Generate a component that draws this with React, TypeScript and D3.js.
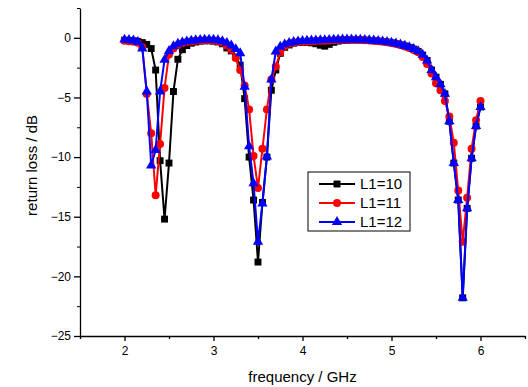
import React, { useEffect, useRef } from 'react';
import * as d3 from 'd3';

const FREQ = [
  2.0, 2.05, 2.1, 2.15, 2.2, 2.25, 2.3, 2.35, 2.4, 2.45,
  2.5, 2.55, 2.6, 2.65, 2.7, 2.75, 2.8, 2.85, 2.9, 2.95,
  3.0, 3.05, 3.1, 3.15, 3.2, 3.25, 3.3, 3.35, 3.4, 3.45,
  3.5, 3.55, 3.6, 3.65, 3.7, 3.75, 3.8, 3.85, 3.9, 3.95,
  4.0, 4.05, 4.1, 4.15, 4.2, 4.25, 4.3, 4.35, 4.4, 4.45,
  4.5, 4.55, 4.6, 4.65, 4.7, 4.75, 4.8, 4.85, 4.9, 4.95,
  5.0, 5.05, 5.1, 5.15, 5.2, 5.25, 5.3, 5.35, 5.4, 5.45,
  5.5, 5.55, 5.6, 5.65, 5.7, 5.75, 5.8, 5.85, 5.9, 5.95,
  6.0,
];

const L1_10 = [
  -0.2, -0.22, -0.25, -0.3, -0.4, -0.55, -0.9, -2.7, -10.3, -15.2,
  -10.5, -4.5, -1.8, -1.0, -0.65, -0.45, -0.35, -0.28, -0.25, -0.25,
  -0.28, -0.35, -0.5, -0.85, -1.1, -1.6, -2.3, -5.1, -10.0, -13.6,
  -18.8, -13.8, -10.0, -4.4, -2.7, -1.3, -0.8, -0.6, -0.45, -0.4,
  -0.38, -0.38, -0.42, -0.5, -0.62, -0.7, -0.55, -0.38, -0.28, -0.22,
  -0.2, -0.18, -0.18, -0.18, -0.2, -0.22, -0.25, -0.28, -0.32, -0.36,
  -0.42, -0.5, -0.58, -0.68, -0.8, -0.95, -1.15, -1.45, -1.9, -2.7,
  -3.3, -3.9, -4.7, -7.0, -10.5, -13.6, -21.8, -14.3, -10.1, -7.4,
  -5.8,
];

const L1_11 = [
  -0.25, -0.28, -0.32, -0.42, -0.8, -4.7, -8.0, -13.2, -8.9, -4.2,
  -1.4, -0.9, -0.6, -0.45, -0.35, -0.3, -0.25, -0.22, -0.2, -0.2,
  -0.22, -0.28, -0.4, -0.65, -1.0, -1.7, -2.7, -4.0, -6.0, -9.9,
  -12.6, -9.3, -6.0, -3.5, -2.4, -1.2, -0.7, -0.5, -0.4, -0.35,
  -0.32, -0.3, -0.28, -0.26, -0.25, -0.24, -0.22, -0.2, -0.18, -0.17,
  -0.16, -0.16, -0.17, -0.18, -0.2, -0.22, -0.25, -0.28, -0.32, -0.37,
  -0.43, -0.5, -0.6, -0.72, -0.86, -1.02, -1.22, -1.6, -2.2, -3.0,
  -3.8, -4.4, -5.3, -6.6, -8.8, -12.8, -17.1, -13.4, -9.3, -6.9,
  -5.3,
];

const L1_12 = [
  -0.15, -0.18, -0.22, -0.35, -0.9, -4.5, -10.7, -9.4, -4.5, -1.85,
  -1.1, -0.7, -0.5, -0.38, -0.3, -0.24, -0.2, -0.17, -0.15, -0.15,
  -0.16, -0.2, -0.28, -0.42, -0.65, -0.95, -1.3, -4.1, -9.1, -12.2,
  -17.1, -13.9, -9.95, -3.5, -1.15, -0.75, -0.55, -0.42, -0.35, -0.3,
  -0.27, -0.25, -0.23, -0.22, -0.2, -0.19, -0.18, -0.16, -0.15, -0.14,
  -0.14, -0.14, -0.15, -0.16, -0.18, -0.2, -0.23, -0.26, -0.3, -0.35,
  -0.4, -0.47, -0.56, -0.66, -0.78, -0.93, -1.12, -1.42, -1.9, -2.7,
  -3.3, -3.9, -4.7, -7.0, -10.5, -13.6, -21.8, -14.3, -10.1, -7.4,
  -5.8,
];

const SERIES = [
  { name: 'L1=10', values: L1_10, color: '#000000', symbol: d3.symbolSquare, size: 48 },
  { name: 'L1=11', values: L1_11, color: '#ff0000', symbol: d3.symbolCircle, size: 50 },
  { name: 'L1=12', values: L1_12, color: '#0000ff', symbol: d3.symbolTriangle, size: 46 },
];

const X_TICKS = [2, 3, 4, 5, 6];
const Y_TICKS = [0, -5, -10, -15, -20, -25];

const FONT = '"Liberation Sans", Arial, sans-serif';

function App() {
  const svgRef = useRef<SVGSVGElement | null>(null);

  useEffect(() => {
    const width = 528;
    const height = 387;
    const svg = d3.select(svgRef.current);
    svg.selectAll('*').remove();
    svg.attr('width', width).attr('height', height);

    const x = d3.scaleLinear().domain([1.5, 6.5]).range([80, 525]);
    const y = d3.scaleLinear().domain([-25, 2.5]).range([336, 8]);

    // y axis: minor then major
    const yMinor = d3.range(-25, 2.6, 2.5).filter(v => !Y_TICKS.includes(v));
    svg.append('g')
      .attr('transform', 'translate(80,0)')
      .call(d3.axisLeft(y).tickValues(yMinor).tickSize(3).tickFormat(() => ''))
      .call(g => g.select('.domain').remove());
    svg.append('g')
      .attr('transform', 'translate(80,0)')
      .call(d3.axisLeft(y).tickValues(Y_TICKS).tickSize(6).tickSizeOuter(0).tickPadding(3).tickFormat(d3.format('d')))
      .call(g => g.selectAll('text').attr('font-size', 12).attr('font-family', FONT).attr('fill', '#000'))
      .call(g => g.selectAll('line, path').attr('stroke', '#000').attr('stroke-width', 1.3));

    // x axis
    const xMinor = [1.5, 2.5, 3.5, 4.5, 5.5, 6.5];
    svg.append('g')
      .attr('transform', 'translate(0,336)')
      .call(d3.axisBottom(x).tickValues(xMinor).tickSize(3).tickFormat(() => ''))
      .call(g => g.select('.domain').remove())
      .call(g => g.selectAll('line').attr('stroke-width', 1.3));
    svg.append('g')
      .attr('transform', 'translate(0,336)')
      .call(d3.axisBottom(x).tickValues(X_TICKS).tickSize(5).tickSizeOuter(0).tickPadding(5).tickFormat(d3.format('d')))
      .call(g => g.selectAll('text').attr('font-size', 12).attr('font-family', FONT).attr('fill', '#000'))
      .call(g => g.selectAll('line, path').attr('stroke', '#000').attr('stroke-width', 1.3));

    // axis titles
    svg.append('text')
      .attr('x', x(4))
      .attr('y', 382)
      .attr('text-anchor', 'middle')
      .attr('font-size', 15)
      .attr('font-family', FONT)
      .text('frequency / GHz');
    svg.append('text')
      .attr('transform', `translate(37,${y(-10.7)}) rotate(-90)`)
      .attr('text-anchor', 'middle')
      .attr('font-size', 15)
      .attr('font-family', FONT)
      .text('return loss / dB');

    const line = d3.line<number>()
      .x((d, i) => x(FREQ[i]))
      .y(d => y(d));

    SERIES.forEach(s => {
      const g = svg.append('g');
      g.append('path')
        .datum(s.values)
        .attr('d', line)
        .attr('fill', 'none')
        .attr('stroke', s.color)
        .attr('stroke-width', 2);
      g.selectAll('path.pt')
        .data(s.values)
        .enter()
        .append('path')
        .attr('class', 'pt')
        .attr('transform', (d, i) => `translate(${x(FREQ[i])},${y(d)})`)
        .attr('d', d3.symbol().type(s.symbol).size(s.size)())
        .attr('fill', s.color);
    });

    // legend
    const lg = svg.append('g').attr('transform', 'translate(308,172)');
    lg.append('rect')
      .attr('width', 102)
      .attr('height', 59)
      .attr('fill', '#fff')
      .attr('stroke', '#000')
      .attr('stroke-width', 1);
    SERIES.forEach((s, i) => {
      const ry = 12 + i * 19;
      lg.append('line')
        .attr('x1', 11).attr('x2', 47)
        .attr('y1', ry).attr('y2', ry)
        .attr('stroke', s.color)
        .attr('stroke-width', 2);
      lg.append('path')
        .attr('transform', `translate(29,${ry})`)
        .attr('d', d3.symbol().type(s.symbol).size(s.size)())
        .attr('fill', s.color);
      lg.append('text')
        .attr('x', 52)
        .attr('y', ry + 5)
        .attr('font-size', 15)
        .attr('font-family', FONT)
        .text(s.name);
    });
  }, []);

  return (
    <div style={{ position: 'absolute', left: 0, top: 0, width: 528, height: 387, background: '#fff' }}>
      <svg ref={svgRef} style={{ display: 'block' }} />
    </div>
  );
}

export default App;
